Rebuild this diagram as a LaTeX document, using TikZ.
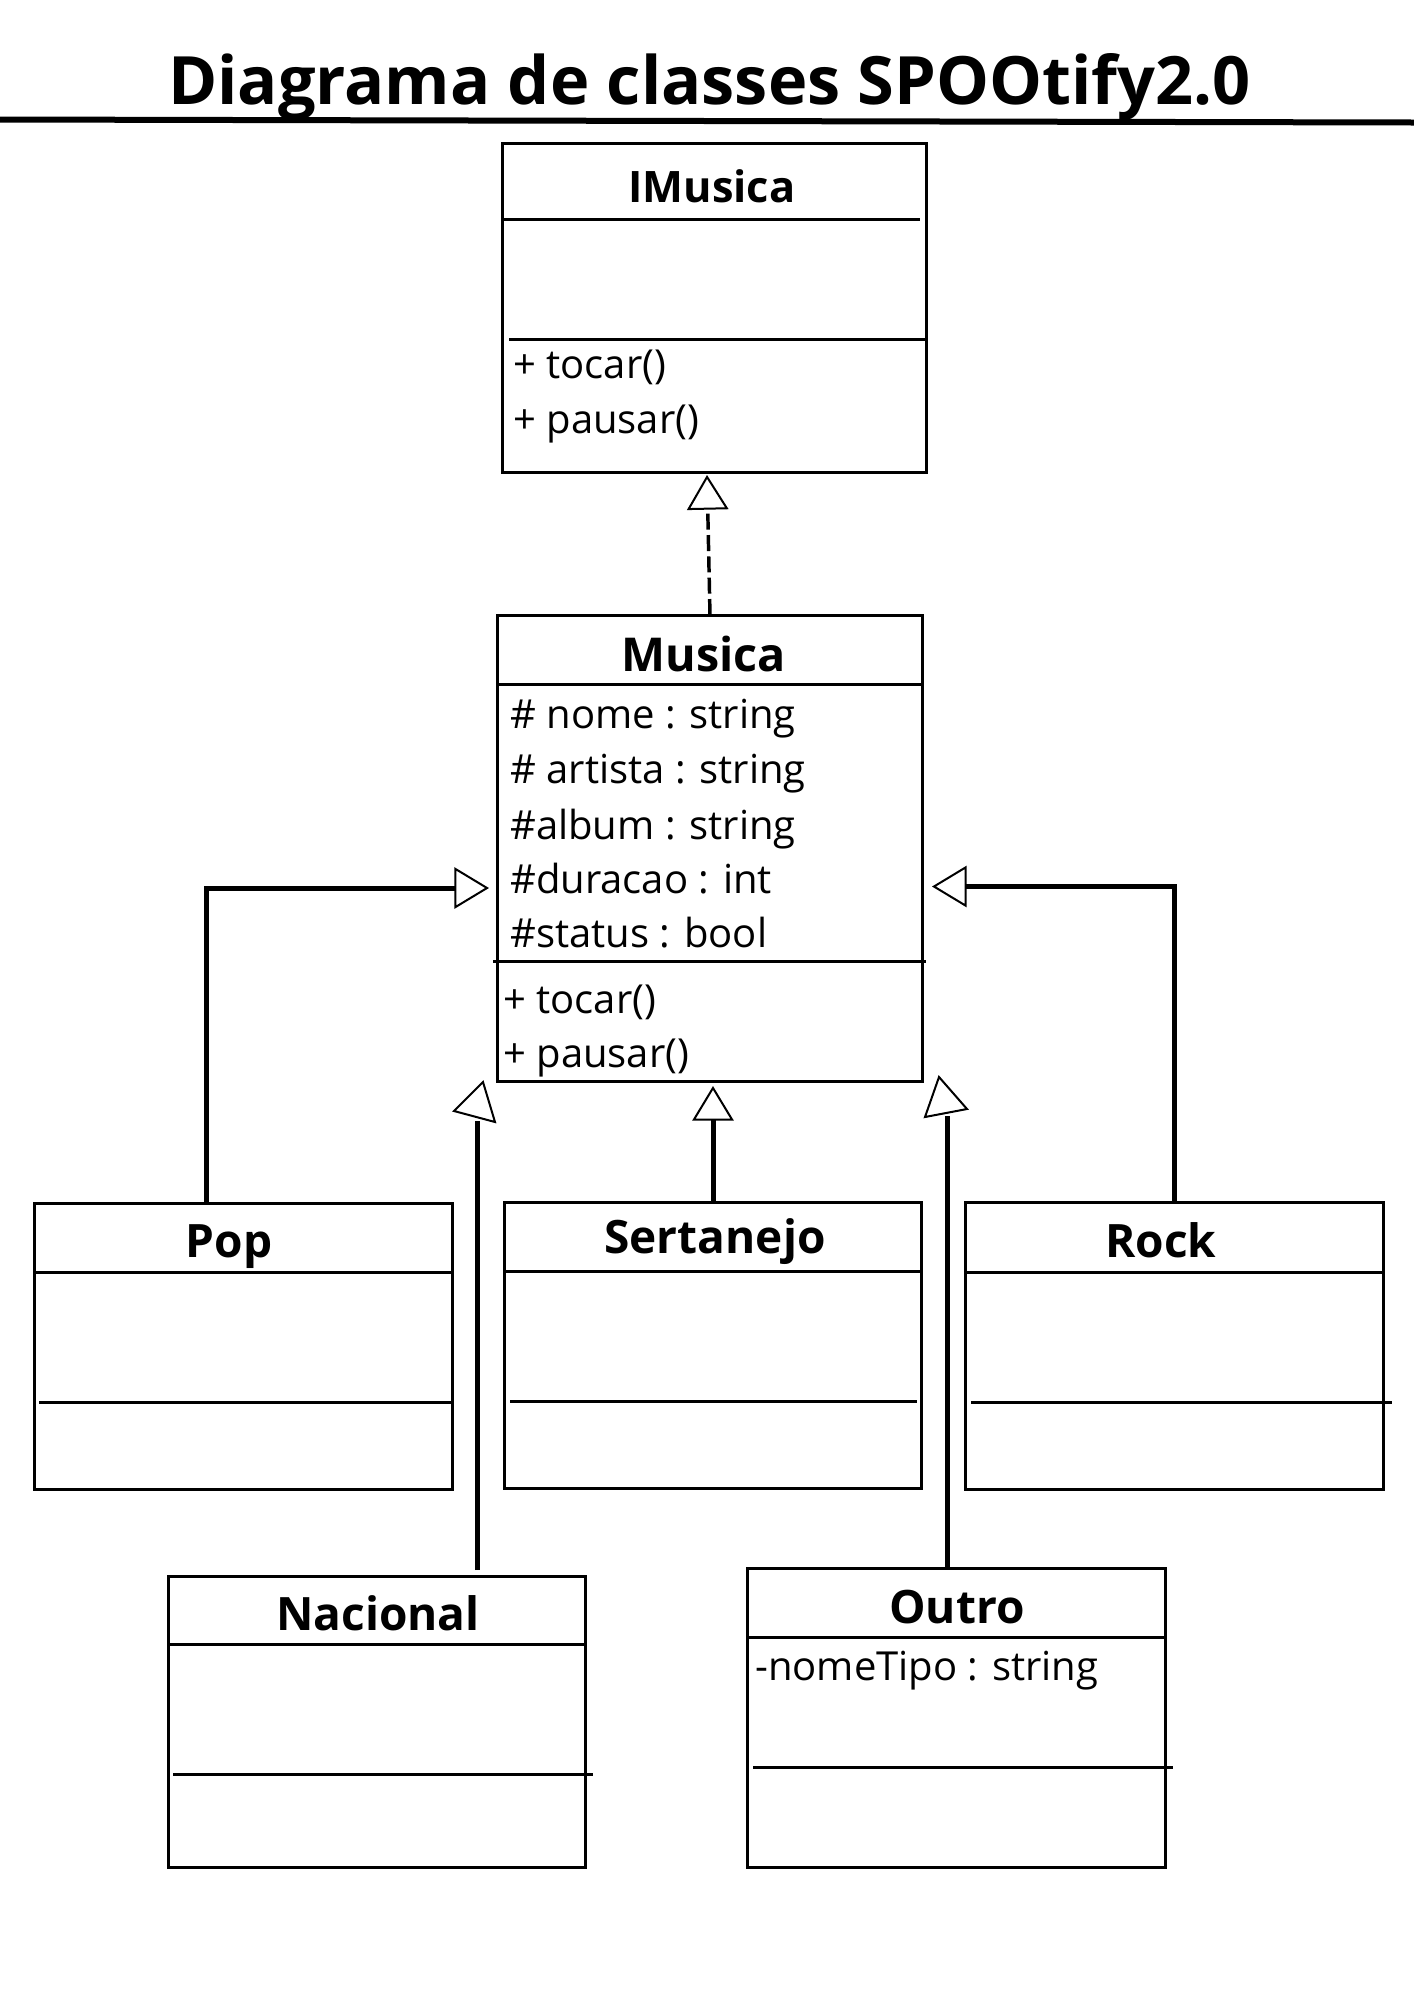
\documentclass[tikz,border=0pt]{standalone}
\usepackage{fontspec}
\setmainfont{Open Sans}
\usetikzlibrary{arrows.meta,calc,fit}
\begin{document}
\begin{tikzpicture}[x=0.75pt,y=-0.75pt,
  box/.style={draw, line width=2.25pt, inner sep=0pt, outer sep=0pt},
  sepline/.style={line width=2.25pt},
  cname/.style={anchor=base, inner sep=0pt, font=\bfseries\fontsize{34.5pt}{40pt}\selectfont},
  member/.style={anchor=base west, inner sep=0pt, font=\fontsize{30pt}{36pt}\selectfont},
  conn/.style={line width=3.75pt},
  gen/.style={-{Triangle[open, length=26pt, width=31pt, line width=1.5pt]}},
  tri/.style={line width=1.5pt, fill=white, line join=miter},
]
\useasboundingbox (0,0) rectangle (1414,2000);
\fill[white] (0,0) rectangle (1414,2000);

% title
\node[anchor=base, inner sep=0pt, font=\bfseries\fontsize{50pt}{60pt}\selectfont] (title) at (709.5,104) {Diagrama de classes SPOOtify2.0};
\coordinate (tl) at (0,119.5);
\coordinate (tr) at (1414,122.5);
\draw[line width=4.5pt] (tl) -- (tr);

% IMusica
\node[box, fit={(502,143) (926,472)}] (imusica) {};
\draw[sepline] (502,219) -- (920,219);
\draw[sepline] (509,339) -- (926,339);
\node[cname, font=\bfseries\fontsize{32.5pt}{40pt}\selectfont] (imusicaT) at (712,202) {IMusica};
\node[member] (im1) at (513,378) {+ tocar()};
\node[member] (im2) at (513,433) {+ pausar()};

% Musica
\node[box, fit={(497,615) (922,1081)}] (musica) {};
\draw[sepline] (497,684) -- (922,684);
\draw[sepline] (493,961) -- (926,961);
\node[cname, font=\bfseries\fontsize{35pt}{40pt}\selectfont] (musicaT) at (704,671) {Musica};
\node[member] (m1) at (510,728) {\# nome : string};
\node[member] (m2) at (510,783) {\# artista : string};
\node[member] (m3) at (510,839) {\#album : string};
\node[member] (m4) at (510,893) {\#duracao : int};
\node[member] (m5) at (510,947) {\#status : bool};
\node[member] (m6) at (503,1013) {+ tocar()};
\node[member] (m7) at (503,1067) {+ pausar()};

% Pop
\node[box, fit={(34,1203) (452,1489)}] (pop) {};
\draw[sepline] (34,1272) -- (452,1272);
\draw[sepline] (39,1402) -- (453,1402);
\node[cname] (popT) at (229,1257) {Pop};

% Sertanejo
\node[box, fit={(504,1202) (921,1488)}] (sert) {};
\draw[sepline] (504,1271) -- (921,1271);
\draw[sepline] (510,1401) -- (917,1401);
\node[cname] (sertT) at (715,1253) {Sertanejo};

% Rock
\node[box, fit={(965,1202) (1383,1489)}] (rock) {};
\draw[sepline] (965,1272) -- (1383,1272);
\draw[sepline] (971,1402) -- (1392,1402);
\node[cname] (rockT) at (1161,1257) {Rock};

% Nacional
\node[box, fit={(168,1576) (585,1867)}] (nac) {};
\draw[sepline] (168,1644) -- (585,1644);
\draw[sepline] (173,1774) -- (593,1774);
\node[cname] (nacT) at (378,1630) {Nacional};

% Outro
\node[box, fit={(747,1568) (1165,1867)}] (outro) {};
\draw[sepline] (747,1637) -- (1165,1637);
\draw[sepline] (753,1767) -- (1173,1767);
\node[cname] (outroT) at (957,1623) {Outro};
\node[member] (o1) at (755,1680) {-nomeTipo : string};

% realization
\draw[line width=2.6pt, dash pattern=on 12pt off 4pt, gen] ($(musica.north)+(0.5,0)$) -- ($(imusica.south)+(-7,3)$);

% generalizations
\draw[conn, gen] ($(pop.north west)+(172,0)$) |- ($(musica.north west)+(-8,273)$);
\draw[conn, gen] ($(rock.north west)+(209,0)$) |- ($(musica.north east)+(10,271.5)$);
\draw[conn, gen] ($(sert.north west)+(209,0)$) -- ($(musica.south west)+(216,5)$);

\coordinate (nacEnd) at ($(musica.south west)+(-20,40)$);
\draw[conn] ($(nac.north west)+(309,-6)$) -- (nacEnd);
\draw[tri] (483,1082) -- (454,1111) -- (495,1122) -- cycle;

\coordinate (outroEnd) at ($(musica.south east)+(25,35)$);
\draw[conn] ($(outro.north west)+(200,0)$) -- (outroEnd);
\draw[tri] (939,1077) -- (925,1117) -- (967,1109) -- cycle;
\end{tikzpicture}
\end{document}
